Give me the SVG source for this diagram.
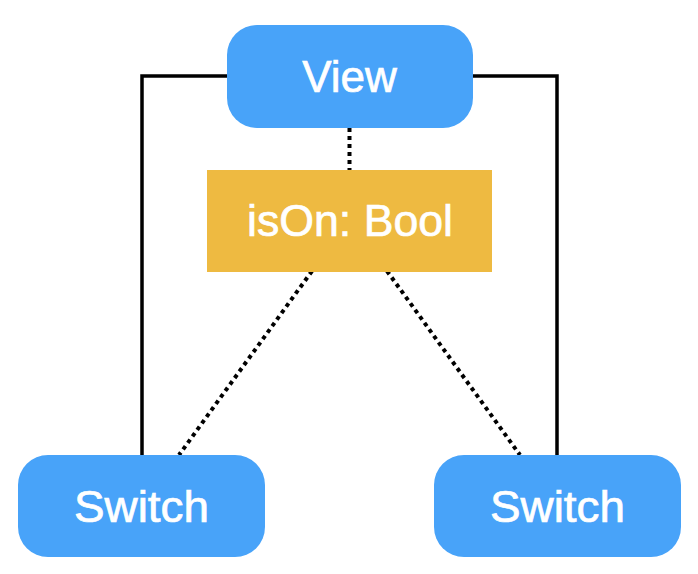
<svg xmlns="http://www.w3.org/2000/svg" width="698" height="574" viewBox="0 0 698 574">
  <style>
    .view { fill: #48A3F9; }
    .state { fill: #EEBA41; }
    .label { fill: #FFFFFF; stroke: #FFFFFF; stroke-width: 0.7; font-family: "Liberation Sans", Arial, Helvetica, sans-serif; font-size: 44px; text-anchor: middle; }
    .solid { fill: none; stroke: #000000; stroke-width: 3.5; }
    .binding { fill: none; stroke: #000000; stroke-width: 4; stroke-dasharray: 4 4; }
  </style>
  <rect width="698" height="574" fill="#FFFFFF"/>

  <!-- connectors drawn first so the nodes sit on top -->
  <g id="connectors">
    <polyline class="solid" points="142,456 142,76 228,76"/>
    <polyline class="solid" points="472,76 557,76 557,456"/>
    <line class="binding" x1="349.5" y1="128" x2="349.5" y2="170"/>
    <line class="binding" x1="312" y1="271" x2="179" y2="455"/>
    <line class="binding" x1="387" y1="271" x2="520" y2="455"/>
  </g>

  <g id="view">
    <rect class="view" x="227" y="25" width="246" height="103" rx="30" ry="30"/>
    <text class="label" x="349.5" y="92">View</text>
  </g>

  <g id="isOn">
    <rect class="state" x="207" y="170" width="285" height="102"/>
    <text class="label" x="350" y="236" textLength="206" lengthAdjust="spacingAndGlyphs">isOn: Bool</text>
  </g>

  <g id="switch-left">
    <rect class="view" x="18" y="455" width="247" height="102" rx="30" ry="30"/>
    <text class="label" x="141.5" y="522" textLength="135" lengthAdjust="spacingAndGlyphs">Switch</text>
  </g>

  <g id="switch-right">
    <rect class="view" x="434" y="455" width="247" height="102" rx="30" ry="30"/>
    <text class="label" x="557.5" y="522" textLength="135" lengthAdjust="spacingAndGlyphs">Switch</text>
  </g>
</svg>
